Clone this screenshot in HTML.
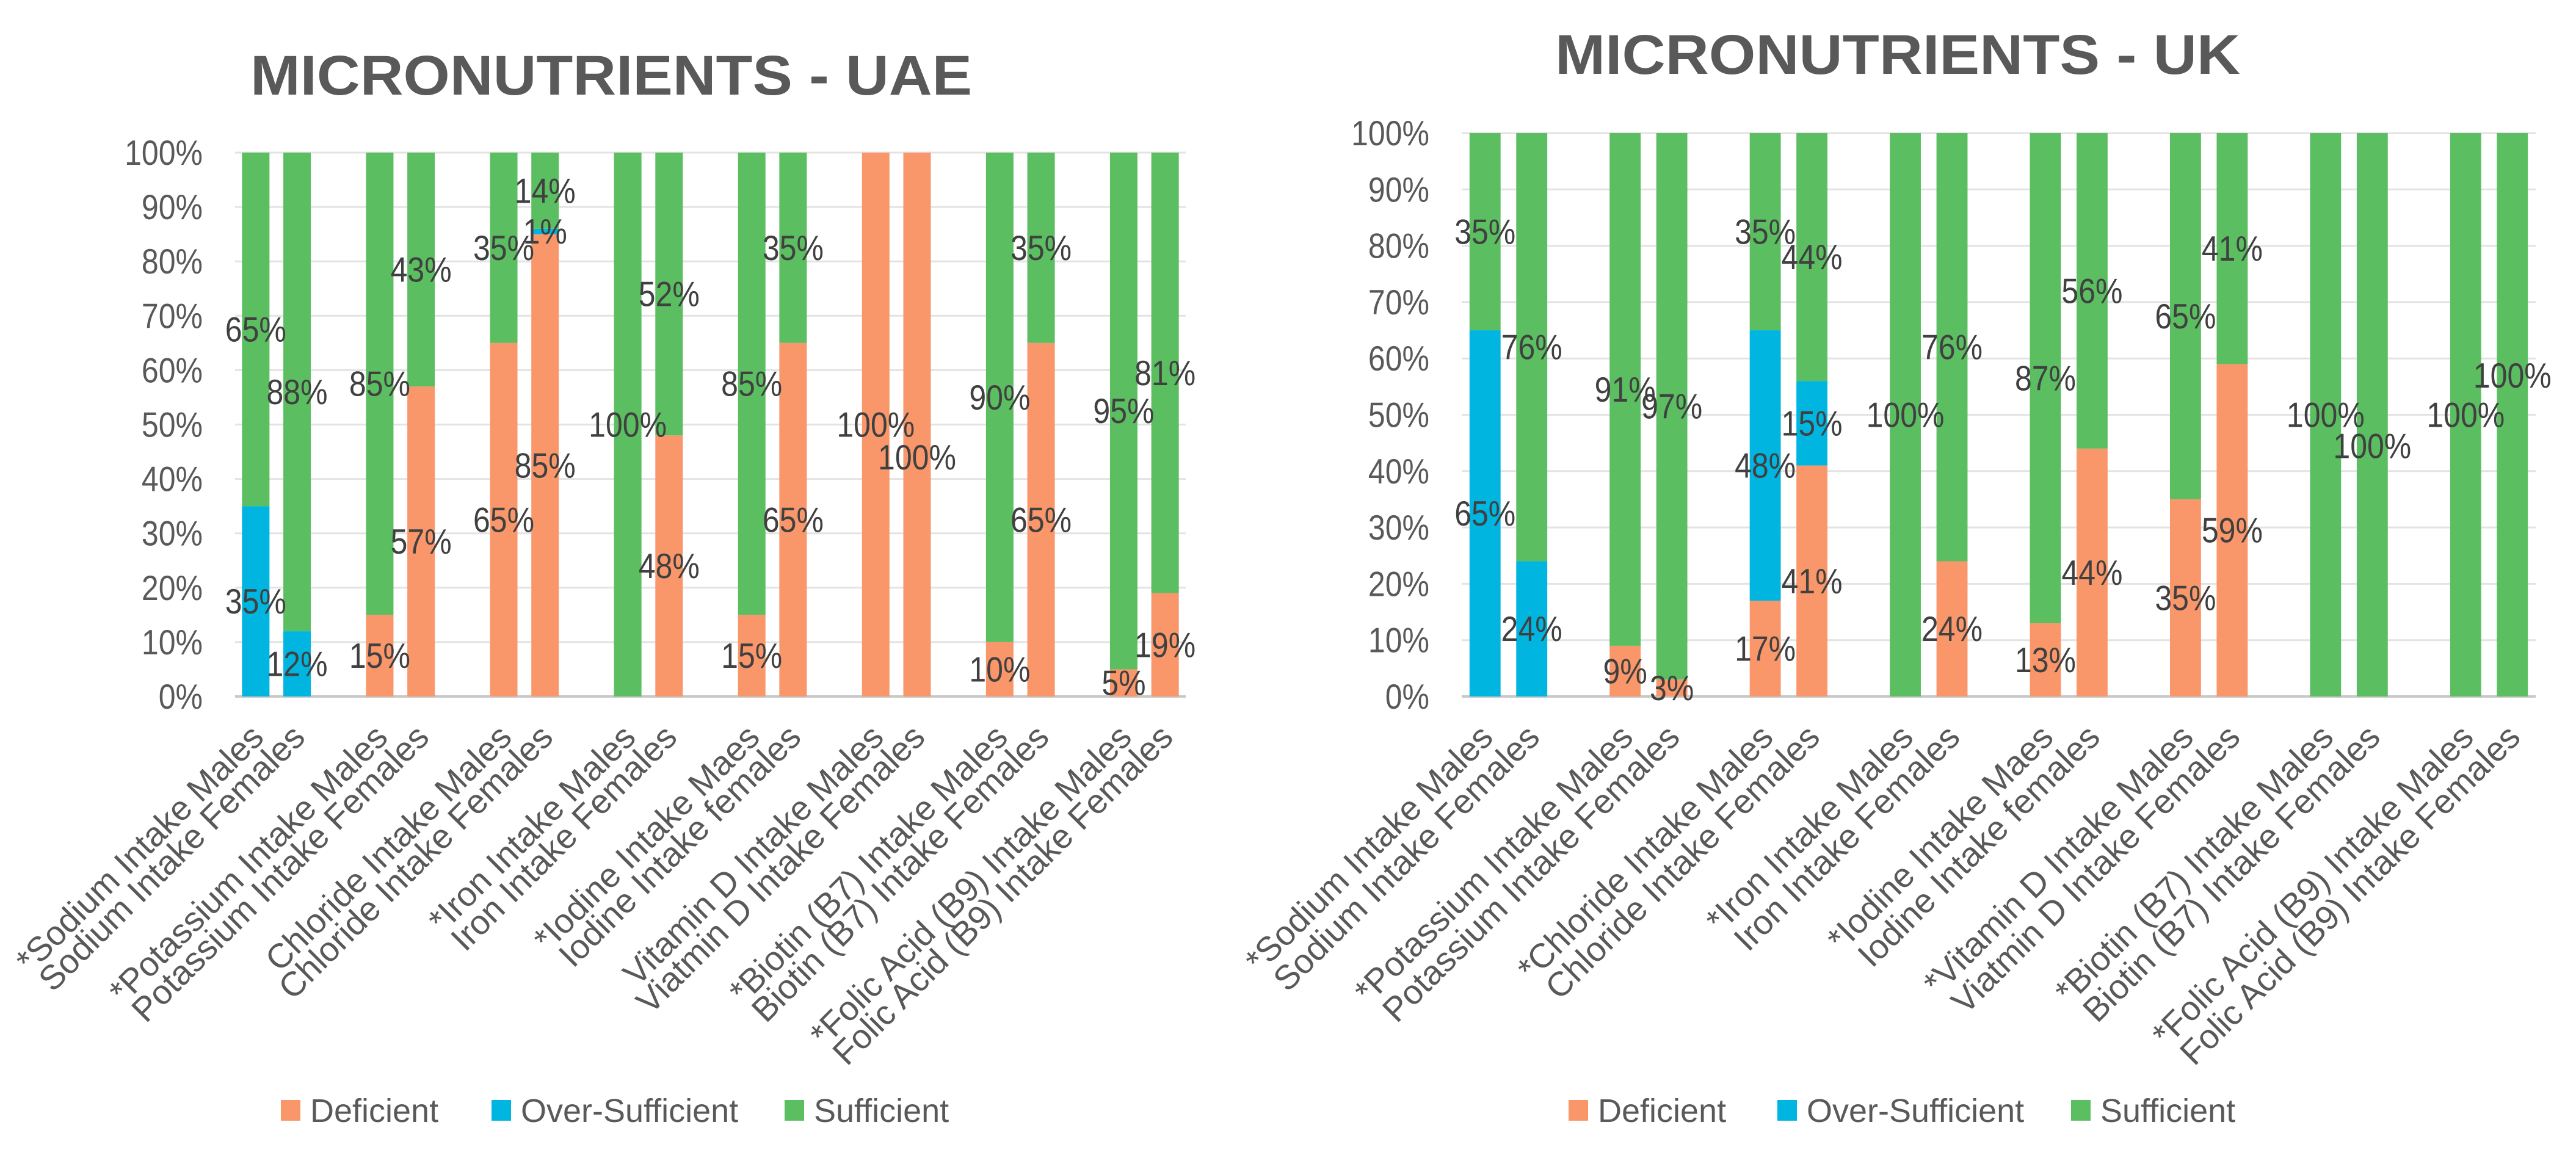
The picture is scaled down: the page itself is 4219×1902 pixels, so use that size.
<!DOCTYPE html>
<html><head><meta charset="utf-8"><style>
html,body{margin:0;padding:0;background:#fff;}
svg{display:block;font-family:"Liberation Sans",sans-serif;}
</style></head><body>
<svg id="root" width="4219" height="1902" viewBox="0 0 4219 1902" xmlns="http://www.w3.org/2000/svg"></svg>
<script>
// ---- UAE data ----
const uaeCategories = ["*Sodium Intake Males","Sodium Intake Females","","*Potassium Intake Males","Potassium Intake Females","","Chloride Intake Males","Chloride Intake Females","","*Iron Intake Males","Iron Intake Females","","*Iodine Intake Maes","Iodine Intake females","","Vitamin D Intake Males","Viatmin D Intake Females","","*Biotin (B7) Intake Males","Biotin (B7) Intake Females","","*Folic Acid (B9) Intake Males","Folic Acid (B9) Intake Females"];
const uaeDeficient = [0,0,null,15,57,null,65,85,null,0,48,null,15,65,null,100,100,null,10,65,null,5,19];
const uaeOver = [35,12,null,0,0,null,0,1,null,0,0,null,0,0,null,0,0,null,0,0,null,0,0];
const uaeSufficient = [65,88,null,85,43,null,35,14,null,100,52,null,85,35,null,0,0,null,90,35,null,95,81];
// ---- UK data ----
const ukCategories = ["*Sodium Intake Males","Sodium Intake Females","","*Potassium Intake Males","Potassium Intake Females","","*Chloride Intake Males","Chloride Intake Females","","*Iron Intake Males","Iron Intake Females","","*Iodine Intake Maes","Iodine Intake females","","*Vitamin D Intake Males","Viatmin D Intake Females","","*Biotin (B7) Intake Males","Biotin (B7) Intake Females","","*Folic Acid (B9) Intake Males","Folic Acid (B9) Intake Females"];
const ukDeficient = [0,0,null,9,3,null,17,41,null,0,24,null,13,44,null,35,59,null,0,0,null,0,0];
const ukOver = [65,24,null,0,0,null,48,15,null,0,0,null,0,0,null,0,0,null,0,0,null,0,0];
const ukSufficient = [35,76,null,91,97,null,35,44,null,100,76,null,87,56,null,65,41,null,100,100,null,100,100];
const yTicks = [0,10,20,30,40,50,60,70,80,90,100];
const seriesNames = ["Deficient","Over-Sufficient","Sufficient"];

const NS="http://www.w3.org/2000/svg";
const root=document.getElementById('root');
const COLORS=["#f9976a","#00b6e1","#5bbf62"];
const SY=1.15;
function mk(tag,attrs,parent){const e=document.createElementNS(NS,tag);for(const k in attrs)e.setAttribute(k,attrs[k]);(parent||root).appendChild(e);return e;}

function drawChart(cfg){
  const g=mk('g',{});
  
  
  const {x0,x1,y0,y100}=cfg;
  const n=cfg.cats.length, slot=(x1-x0)/n, bw=slot*cfg.bwr;
  const yS=v=>y0-(y0-y100)*v/100;
  const xC=i=>x0+slot*(i+0.5);
  const t=mk('text',{x:cfg.titleX,y:cfg.titleY,'font-size':92,'font-weight':'bold',fill:'#595959',textLength:cfg.titleW,lengthAdjust:'spacingAndGlyphs'},g);
  t.textContent=cfg.title;
  
  
  yTicks.forEach(v=>{
    if(v>0){const l=mk('line',{x1:x0,x2:x1,y1:yS(v),y2:yS(v),stroke:'#e3e3e3','stroke-width':3},g);
      
      }
    const tt=mk('text',{x:0,y:0,'font-size':50,fill:'#595959','text-anchor':'end',transform:`translate(${cfg.tickX},${yS(v)+20}) scale(1,${SY})`},g);
    tt.textContent=v+'%';
    
    
  });
  const ax=mk('line',{x1:x0,x2:x1,y1:y0,y2:y0,stroke:'#c8c8c8','stroke-width':4},g);
  
  
  const series=[cfg.def,cfg.over,cfg.suf];
  const labels=[];
  for(let i=0;i<n;i++){
    if(cfg.def[i]===null) continue;
    let base=0;
    series.forEach((s,k)=>{
      const v=s[i];
      if(v>0){
        const r=mk('rect',{x:xC(i)-bw/2,y:yS(base+v),width:bw,height:yS(base)-yS(base+v),fill:COLORS[k]},g);
        
        
        const nud=(cfg.nudge[i]||0);
        labels.push([xC(i),yS(base+v/2+nud)+20,v]);
      }
      base+=v;
    });
    const lab=mk('text',{x:0,y:0,'font-size':56,fill:'#595959','text-anchor':'end',transform:`translate(${xC(i)+16},${y0+70}) rotate(-45)`},g);
    lab.textContent=cfg.cats[i];
    
    
  }
  labels.forEach(([x,y,v])=>{
    const d=mk('text',{x:0,y:0,'font-size':50,fill:'#404040','text-anchor':'middle',transform:`translate(${x},${y}) scale(1,${SY})`},g);
    d.textContent=v+'%';
    
    
  });
  cfg.legX.forEach((lx,k)=>{
    const lg=mk('g',{},g);
    
    
    mk('rect',{x:lx,y:1802,width:32,height:34,fill:COLORS[k]},lg);
    const lt=mk('text',{x:lx+48,y:1838,'font-size':54,fill:'#595959'},lg);
    lt.textContent=seriesNames[k];
  });
}

drawChart({name:'uae-chart',title:'MICRONUTRIENTS - UAE',titleX:410,titleY:155,titleW:1182,
  cats:uaeCategories,def:uaeDeficient,over:uaeOver,suf:uaeSufficient,nudge:{16:-6},
  x0:385,x1:1942,y0:1141,y100:250,bwr:0.665,tickX:332,legX:[460,805,1285]});
drawChart({name:'uk-chart',title:'MICRONUTRIENTS - UK',titleX:2547,titleY:121,titleW:1122,
  cats:ukCategories,def:ukDeficient,over:ukOver,suf:ukSufficient,nudge:{19:-5.5,22:7},
  x0:2394,x1:4153,y0:1141,y100:218,bwr:0.665,tickX:2341,legX:[2569,2911,3392]});
</script>
</body></html>
